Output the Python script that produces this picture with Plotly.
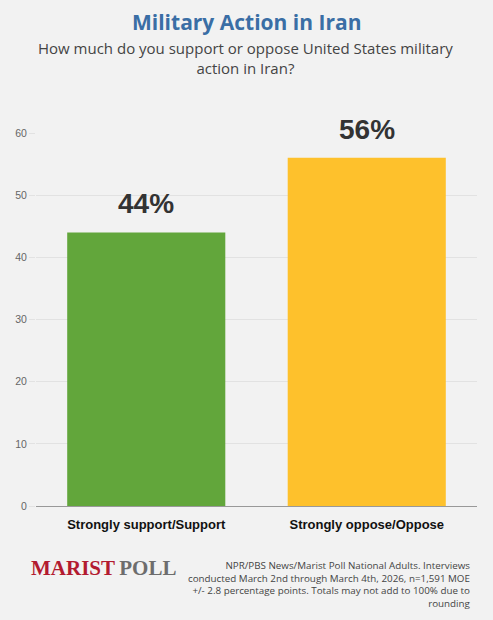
import plotly.graph_objects as go

categories = ["Strongly support/Support", "Strongly oppose/Oppose"]
values = [44, 56]
bar_colors = ["#62a63b", "#fec12c"]
y_ticks = [0, 10, 20, 30, 40, 50, 60]

title = "Military Action in Iran"
subtitle = "How much do you support or oppose United States military<br>action in Iran?"
source = ("NPR/PBS News/Marist Poll National Adults. Interviews<br>"
          "conducted March 2nd through March 4th, 2026, n=1,591 MOE<br>"
          "+/- 2.8 percentage points. Totals may not add to 100% due to<br>"
          "rounding")

fig = go.Figure()
fig.add_trace(go.Bar(
    x=categories, y=values, marker=dict(color=bar_colors, line=dict(width=0)),
    width=0.717, cliponaxis=False, hoverinfo="skip",
))

fig.update_layout(
    width=493, height=620,
    paper_bgcolor="#f2f2f2", plot_bgcolor="#f2f2f2",
    margin=dict(l=36, r=16, t=133, b=114),
    showlegend=False,
    font=dict(family="Open Sans, sans-serif"),
    xaxis=dict(
        tickfont=dict(family="Liberation Sans, Arial", size=13, color="#111111"),
        tickprefix="<b>", ticksuffix="</b>",
        showgrid=False, showline=False, ticks="",
        ticklabelstandoff=9,
    ),
    yaxis=dict(
        range=[0, 60], tickvals=y_ticks,
        tickfont=dict(family="Liberation Sans, Arial", size=10.5, color="#666666"),
        showgrid=True, gridcolor="#e2e2e2", gridwidth=1,
        zeroline=True, zerolinecolor="#999999", zerolinewidth=1,
        ticks="outside", ticklen=6, tickcolor="#e2e2e2",
        showline=False,
    ),
)

for c, v in zip(categories, values):
    fig.add_annotation(x=c, y=v, text=f"<b>{v}%</b>", showarrow=False,
                       yanchor="bottom", yshift=11,
                       font=dict(family="Liberation Sans, Arial", size=28, color="#333333"))

H = 373.0
# Title and subtitle
fig.add_annotation(xref="paper", yref="paper", x=(246.5 - 36) / 441, xanchor="center",
                   y=1 + (133 - 22) / H, yanchor="middle",
                   text=f"<b>{title}</b>", showarrow=False,
                   font=dict(family="Open Sans, sans-serif", size=21, color="#3a6ea5"))
fig.add_annotation(xref="paper", yref="paper", x=(245 - 36) / 441, xanchor="center",
                   y=1 + (133 - 58) / H, yanchor="middle",
                   text=subtitle, showarrow=False,
                   font=dict(family="Open Sans, sans-serif", size=15, color="#444444"))

# Logo
fig.add_annotation(xref="paper", yref="paper", x=(29 - 36) / 441, xanchor="left",
                   y=-(568 - 506) / H, yanchor="middle",
                   text="<b><span style='color:#b31b30'>MARIST</span><span style='color:#6d6d6d'>\u2009POLL</span></b>",
                   showarrow=False,
                   font=dict(family="Liberation Serif, Times New Roman, serif", size=21))
# Source
fig.add_annotation(xref="paper", yref="paper", x=(473 - 36) / 441, xanchor="right",
                   y=-(584 - 506) / H, yanchor="middle", align="right",
                   text=source, showarrow=False,
                   font=dict(family="Open Sans, sans-serif", size=9.8, color="#444444"))

fig.write_html("out.html", config={"displayModeBar": False},
               post_script="document.body.style.margin='0';document.body.style.background='#f2f2f2';")
